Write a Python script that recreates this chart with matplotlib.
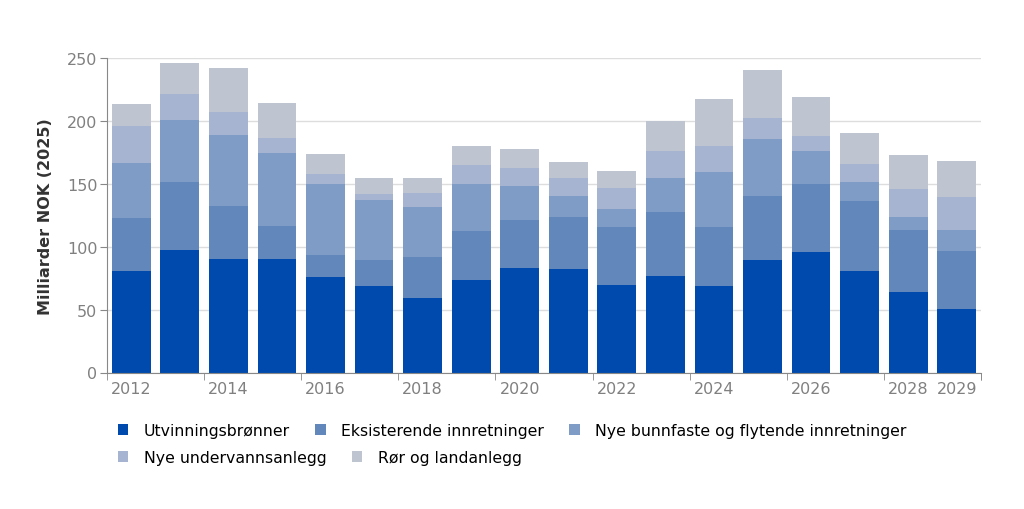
import numpy as np
import matplotlib.pyplot as plt

years = list(range(2012, 2030))
tick_years = [2012, 2014, 2016, 2018, 2020, 2022, 2024, 2026, 2028, 2029]

series_names = ["Utvinningsbrønner", "Eksisterende innretninger",
                "Nye bunnfaste og flytende innretninger",
                "Nye undervannsanlegg", "Rør og landanlegg"]

utvinning = [80.4, 97.1, 90.0, 90.0, 75.6, 68.5, 58.9, 73.2, 82.8, 82.0,
             69.3, 76.4, 68.5, 89.2, 95.5, 80.4, 63.7, 50.2]
eksisterende = [42.2, 54.2, 42.2, 26.2, 17.6, 20.7, 32.7, 39.1, 38.2, 41.4,
                46.1, 51.0, 46.9, 50.9, 54.2, 55.7, 49.4, 46.1]
nye_innretninger = [43.8, 49.3, 56.5, 58.2, 56.5, 47.7, 39.8, 37.4, 27.1, 16.7,
                    14.4, 27.1, 43.8, 45.4, 26.3, 15.2, 10.3, 16.8]
undervann = [29.5, 20.7, 18.3, 11.9, 7.9, 4.8, 11.1, 15.1, 14.3, 14.4,
             16.7, 21.5, 20.7, 16.7, 11.9, 14.3, 22.3, 26.2]
ror_land = [17.5, 24.7, 35.0, 27.9, 16.0, 12.8, 12.0, 15.1, 15.1, 12.7,
            13.5, 23.8, 37.5, 38.2, 31.0, 24.7, 27.1, 28.7]

colors = ["#004aad", "#6287ba", "#7f9cc6", "#a6b4d2", "#bfc5d0"]

data = [utvinning, eksisterende, nye_innretninger, undervann, ror_land]

fig = plt.figure(figsize=(10.24, 5.1), dpi=100)
ax = fig.add_axes([107/1024, 1-373.5/510, 874/1024, 314.5/510])

x = np.arange(len(years))
bottom = np.zeros(len(years))
handles = []
for name, vals, c in zip(series_names, data, colors):
    b = ax.bar(x, vals, 0.8, bottom=bottom, color=c, label=name, zorder=2)
    handles.append(b)
    bottom += np.array(vals)

ax.set_xlim(-0.5, len(years) - 0.5)
ax.set_ylim(0, 250)
ax.set_yticks([0, 50, 100, 150, 200, 250])
ax.yaxis.grid(True, color="#dddddd", linewidth=1, zorder=0)
ax.set_axisbelow(True)

ax.set_xticks([years.index(y) for y in tick_years])
ax.set_xticklabels([str(y) for y in tick_years])
ax.tick_params(axis="x", length=0, pad=6)
ax.set_xticks(list(np.arange(-0.5, len(years), 2)) + [len(years) - 0.5], minor=True)
ax.tick_params(axis="x", which="minor", length=5, color="#888888")
ax.tick_params(axis="y", length=5, color="#888888", pad=2)
ax.tick_params(labelsize=11.5, labelcolor="#808080")

for s in ["top", "right"]:
    ax.spines[s].set_visible(False)
for s in ["left", "bottom"]:
    ax.spines[s].set_color("#888888")

ax.set_ylabel("Milliarder NOK (2025)", fontsize=11.5, fontweight="bold",
              color="#333333", labelpad=10)

leg_kw = dict(loc="upper left", frameon=False, fontsize=11.3,
              handlelength=0.66, handleheight=0.66, handletextpad=1.0,
              columnspacing=1.6, borderaxespad=0, borderpad=0)
leg1 = fig.legend(handles[:3], series_names[:3], ncol=3,
                  bbox_to_anchor=(118/1024, 1-424/510), **leg_kw)
leg2 = fig.legend(handles[3:], series_names[3:], ncol=2,
                  bbox_to_anchor=(118/1024, 1-451/510), **leg_kw)

fig.savefig("out.png", dpi=100)
